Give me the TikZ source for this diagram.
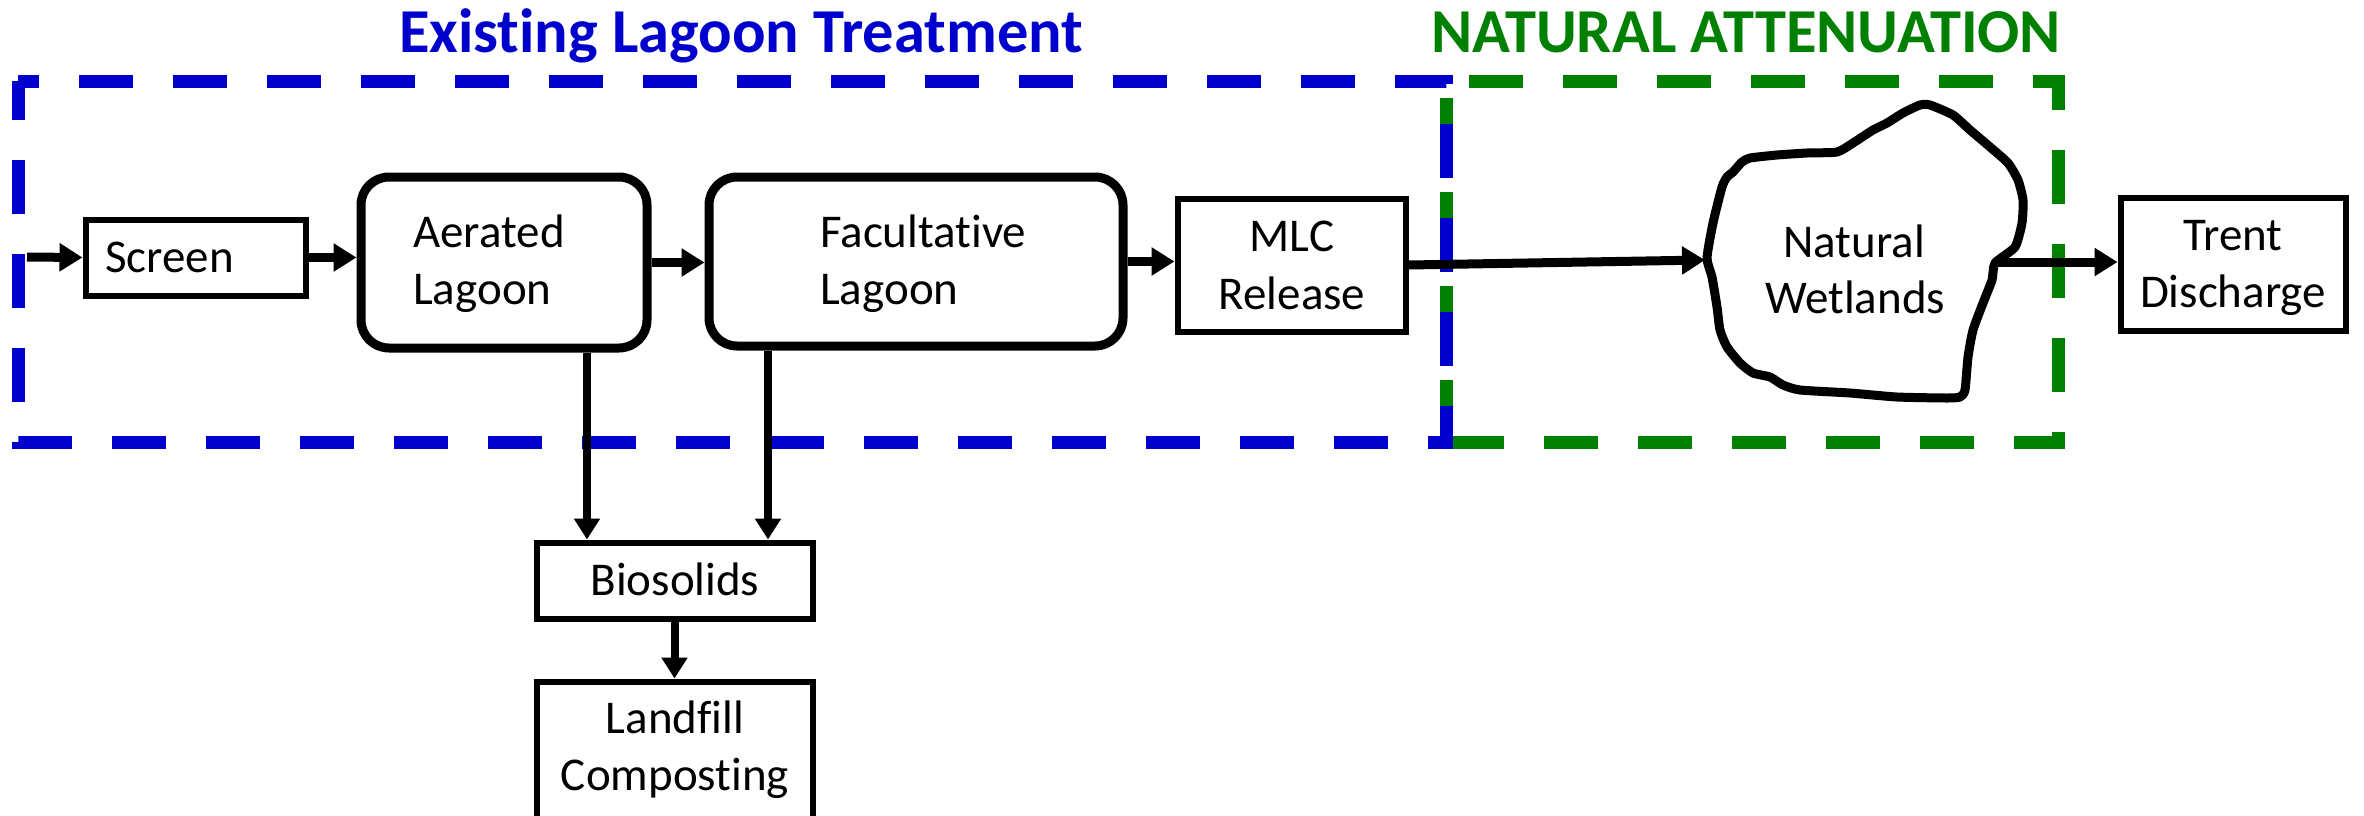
\documentclass[tikz,border=0pt]{standalone}
\usepackage{fontspec}
\setmainfont{Carlito}[Ligatures={NoCommon}]
\usetikzlibrary{arrows.meta}
\definecolor{lblue}{RGB}{0,0,204}
\definecolor{lgreen}{RGB}{0,128,0}
\begin{document}
\begin{tikzpicture}[x=1pt,y=-1pt,
  sqbox/.style={draw, line width=6pt, inner sep=0pt},
  lagbox/.style={draw, line width=9pt, rounded corners=28pt, inner sep=0pt},
  lbl/.style={font=\fontsize{47}{57}\selectfont, inner sep=0pt},
  ttl/.style={font=\fontsize{62.5}{74}\selectfont\bfseries, inner sep=0pt, anchor=base},
  flow/.style={line width=9pt, -{Triangle[length=23pt,width=27pt]}},
  drop/.style={line width=8pt, -{Triangle[length=21pt,width=25pt]}},
  zone/.style={line width=13pt, dash pattern=on 54pt off 40pt}
]
\useasboundingbox[fill=white] (0,0) rectangle (2364,815);

% zones
\draw[zone, lgreen, dash phase=86pt] (1446,442) -- (1446,81) -- (2058,81) -- (2058,442) -- cycle;
\draw[zone, lblue, dash phase=15pt] (18,81) -- (18,442) -- (1446,442) -- (1446,81) -- cycle;

% titles
\node[ttl, text=lblue] (t1) at (741,52) {Existing Lagoon Treatment};
\node[ttl, text=lgreen] (t2) at (1746,52) {NATURAL ATTENUATION};

% boxes
\node[sqbox, minimum width=220pt, minimum height=76pt] (screen) at (195.5,257.5) {};
\node[lbl, anchor=base west] (screenT) at (105,272) {Screen};

\node[lagbox, minimum width=286pt, minimum height=171pt] (aer) at (504,262.5) {};
\node[lbl, anchor=base west] (aerT1) at (413,247) {Aerated};
\node[lbl, anchor=base west] (aerT2) at (413,304) {Lagoon};

\node[lagbox, minimum width=414pt, minimum height=169pt] (fac) at (916,261.5) {};
\node[lbl, anchor=base west] (facT1) at (820,247) {Facultative};
\node[lbl, anchor=base west] (facT2) at (820,304) {Lagoon};

\node[sqbox, minimum width=228pt, minimum height=133pt] (mlc) at (1291.5,265) {};
\node[lbl, anchor=base] (mlcT1) at (1292,251) {MLC};
\node[lbl, anchor=base] (mlcT2) at (1292,309) {Release};

\node[sqbox, minimum width=225pt, minimum height=133pt] (trent) at (2233,264) {};
\node[lbl, anchor=base] (trentT1) at (2233,250) {Trent};
\node[lbl, anchor=base] (trentT2) at (2233,307) {Discharge};

\node[sqbox, minimum width=276pt, minimum height=76pt] (bio) at (674.5,580.5) {};
\node[lbl, anchor=base] (bioT) at (675,595) {Biosolids};

\node[sqbox, minimum width=276pt, minimum height=217pt] (land) at (674.5,790) {};
\node[lbl, anchor=base] (landT1) at (675,733) {Landfill};
\node[lbl, anchor=base] (landT2) at (675,790) {Composting};

% wetlands blob
\draw[line width=9pt, line join=round] plot[smooth cycle, tension=0.35] coordinates {
 (1707,258) (1713,223) (1722,187) (1727,177) (1733,172) (1742,162) (1750,158)
 (1777,155) (1807,153) (1837,152) (1853,143) (1873,130) (1887,123) (1903,113)
 (1920,105) (1930,105) (1953,115) (1970,130) (1990,147) (2008,163) (2018,180)
 (2023,200) (2022,223) (2015,247) (1995,263) (1992,280) (1983,303) (1973,330)
 (1968,357) (1965,390) (1960,397) (1947,398) (1897,397) (1850,393) (1800,390)
 (1783,385) (1770,377) (1753,373) (1740,363) (1727,347) (1720,330) (1717,307)
 (1712,277)};
\node[lbl, anchor=base] (wetT1) at (1854,257) {Natural};
\node[lbl, anchor=base] (wetT2) at (1855,313) {Wetlands};

\coordinate (in) at (27,257);
\coordinate (wetL) at (1705,260);
\coordinate (wetR) at (1998,262);

% connectors
\draw[flow] (in) -- (screen.west);
\draw[flow] (screen.east) -- (screen.east -| aer.west);
\draw[flow] (aer.east) -- (aer.east -| fac.west);
\draw[flow] (fac.east) -- (fac.east -| mlc.west);
\draw[flow] (mlc.east) -- (wetL);
\draw[flow] (wetR) -- (wetR -| trent.west);
\draw[drop] ([xshift=83pt]aer.south) -- ([xshift=83pt]aer.south |- bio.north);
\draw[drop] ([xshift=-148pt]fac.south) -- ([xshift=-148pt]fac.south |- bio.north);
\draw[drop] (bio.south) -- (land.north);
\end{tikzpicture}
\end{document}
